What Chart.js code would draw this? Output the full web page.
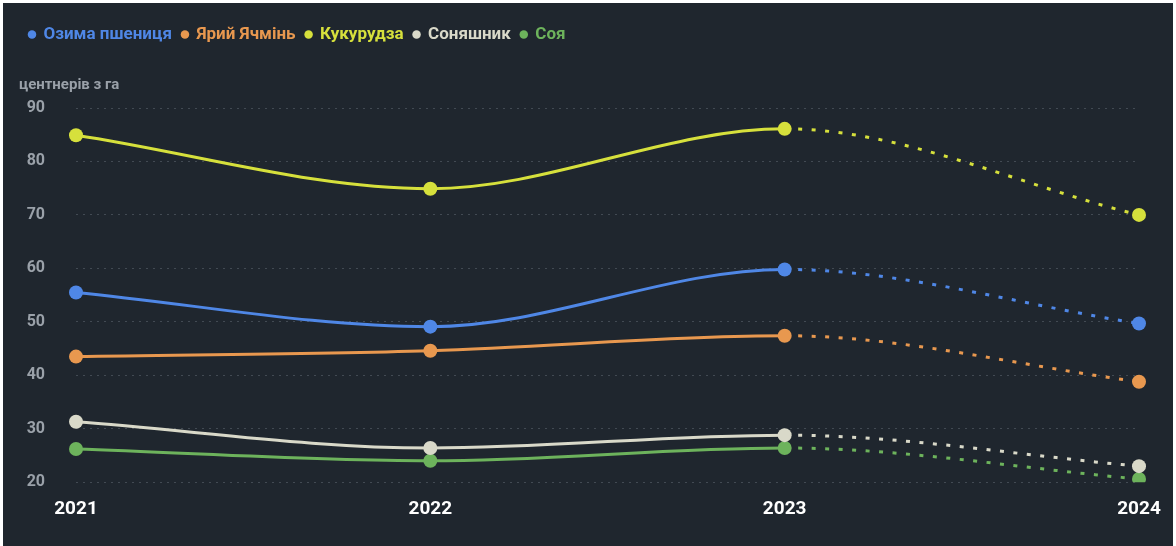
<!DOCTYPE html>
<html>
<head>
<meta charset="utf-8">
<script src="https://cdn.jsdelivr.net/npm/chart.js@4"></script>
<style>
  html, body { margin: 0; padding: 0; background: #ffffff; }
  #wrap { position: absolute; left: 3px; top: 3px; width: 1170px; height: 543px; background: #1f262e; }
</style>
</head>
<body>
<div id="wrap"><canvas id="myChart"></canvas></div>
<script>
// роки
var years = ['2021', '2022', '2023', '2024'];

// врожайність, центнерів з га
var wheat = [55.5, 49.1, 59.8, 49.7];
var barley = [43.5, 44.6, 47.4, 38.8];
var corn = [84.9, 74.9, 86.1, 70];
var sunflower = [31.3, 26.4, 28.8, 23];
var soy = [26.2, 24, 26.4, 20.6];

var yTicks = [20, 30, 40, 50, 60, 70, 80, 90];

function line(label, data, color) {
  return {
    label: label,
    data: data,
    borderColor: color,
    backgroundColor: color,
    borderWidth: 3,
    pointRadius: 7,
    pointHoverRadius: 7,
    pointBorderWidth: 0,
    cubicInterpolationMode: 'monotone',
    segment: {
      // прогноз 2024 - пунктиром
      borderDash: function(ctx) { return ctx.p1DataIndex == 3 ? [4, 9.5] : undefined; }
    }
  };
}

Chart.defaults.font.family = 'Roboto';
Chart.defaults.font.weight = 'bold';

new Chart('myChart', {
  type: 'line',
  data: {
    labels: years,
    datasets: [
      line('Озима пшениця', wheat, '#4f87e6'),
      line('Ярий Ячмінь', barley, '#e8984f'),
      line('Кукурудза', corn, '#d6e03c'),
      line('Соняшник', sunflower, '#d9d9c9'),
      line('Соя', soy, '#6db35c')
    ]
  },
  options: {
    responsive: true,
    maintainAspectRatio: false,
    animation: false,
    layout: { padding: { left: 16, right: 34, top: 13, bottom: 17 } },
    plugins: {
      legend: {
        position: 'top',
        align: 'start',
        labels: {
          usePointStyle: true,
          pointStyle: 'circle',
          boxWidth: 6,
          boxHeight: 6,
          padding: 10,
          font: { size: 17, weight: 'bold' },
          generateLabels: function(chart) {
            var items = Chart.defaults.plugins.legend.labels.generateLabels(chart);
            items.forEach(function(it) { it.fontColor = it.strokeStyle; it.lineWidth = 0; });
            return items;
          }
        }
      },
      title: {
        display: true,
        text: 'центнерів з га',
        align: 'start',
        weight: 500,
        color: '#9aa1a9',
        font: { size: 15, weight: 'bold' },
        padding: { top: 23, bottom: 14 }
      },
      tooltip: { enabled: false }
    },
    scales: {
      x: {
        offset: false,
        grid: { display: false },
        border: { display: false },
        ticks: { color: '#ffffff', font: { size: 19, weight: 'bold' }, padding: 8 }
      },
      y: {
        min: 20,
        max: 90,
        afterBuildTicks: function(axis) { axis.ticks = yTicks.map(function(v) { return { value: v }; }); },
        afterFit: function(axis) { axis.width = 57; },
        border: { display: false, dash: [2, 5] },
        grid: { color: 'rgba(150,160,170,0.3)', lineWidth: 1, drawTicks: false },
        ticks: { color: '#9aa1a9', font: { size: 16, weight: 'bold' }, padding: 31 }
      }
    }
  }
});
</script>
</body>
</html>
